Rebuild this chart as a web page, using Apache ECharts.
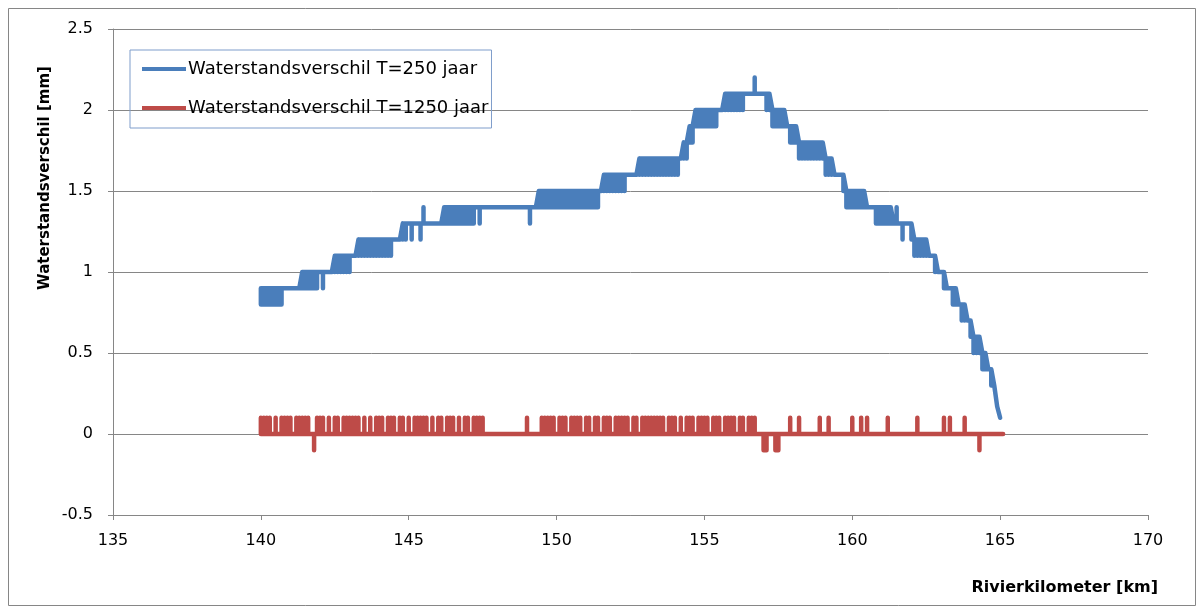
<!DOCTYPE html>
<html>
<head>
<meta charset="utf-8">
<script src="https://cdn.jsdelivr.net/npm/echarts@6/dist/echarts.min.js"></script>
<style>
  html, body { margin: 0; padding: 0; background: #fff; }
  #chart { width: 1203px; height: 614px; }
</style>
</head>
<body>
<div id="chart"></div>
<script>
// rivierkilometer: one bin every 0.1 km, starting at km 140.0
const kmStart = 140;
const kmStep = 0.1;

// T=250 jaar, waterstandsverschil [mm] per 0.1 km bin.
// a number = the line runs at that level,
// [a, b]    = within that bin the line flips between level a and level b
const diff250 = [
  [0.9, 0.8], [0.9, 0.8], [0.9, 0.8], [0.9, 0.8], [0.9, 0.8], [0.9, 0.8], [0.9, 0.8], [0.9, 0.8], 0.9, 0.9,        // 140.0
  0.9, 0.9, 0.9, 0.9, [1.0, 0.9], [1.0, 0.9], [1.0, 0.9], [1.0, 0.9], [1.0, 0.9], [1.0, 0.9],                      // 141.0
  1.0, [1.0, 0.9], 1.0, 1.0, 1.0, [1.1, 1.0], [1.1, 1.0], [1.1, 1.0], [1.1, 1.0], [1.1, 1.0],                      // 142.0
  [1.1, 1.0], 1.1, 1.1, [1.2, 1.1], [1.2, 1.1], [1.2, 1.1], [1.2, 1.1], [1.2, 1.1], [1.2, 1.1], [1.2, 1.1],        // 143.0
  [1.2, 1.1], [1.2, 1.1], [1.2, 1.1], [1.2, 1.1], [1.2, 1.1], 1.2, 1.2, 1.2, [1.3, 1.2], [1.3, 1.2],               // 144.0
  1.3, [1.3, 1.2], 1.3, 1.3, [1.3, 1.2], [1.3, 1.4], 1.3, 1.3, 1.3, 1.3,                                           // 145.0
  1.3, 1.3, [1.4, 1.3], [1.4, 1.3], [1.4, 1.3], [1.4, 1.3], [1.4, 1.3], [1.4, 1.3], [1.4, 1.3], [1.4, 1.3],        // 146.0
  [1.4, 1.3], [1.4, 1.3], [1.4, 1.3], 1.4, [1.4, 1.3], 1.4, 1.4, 1.4, 1.4, 1.4,                                    // 147.0
  1.4, 1.4, 1.4, 1.4, 1.4, 1.4, 1.4, 1.4, 1.4, 1.4,                                                                // 148.0
  1.4, [1.4, 1.3], 1.4, 1.4, [1.5, 1.4], [1.5, 1.4], [1.5, 1.4], [1.5, 1.4], [1.5, 1.4], [1.5, 1.4],               // 149.0
  [1.5, 1.4], [1.5, 1.4], [1.5, 1.4], [1.5, 1.4], [1.5, 1.4], [1.5, 1.4], [1.5, 1.4], [1.5, 1.4], [1.5, 1.4], [1.5, 1.4], // 150.0
  [1.5, 1.4], [1.5, 1.4], [1.5, 1.4], [1.5, 1.4], [1.5, 1.4], 1.5, [1.6, 1.5], [1.6, 1.5], [1.6, 1.5], [1.6, 1.5], // 151.0
  [1.6, 1.5], [1.6, 1.5], [1.6, 1.5], [1.6, 1.5], 1.6, 1.6, 1.6, 1.6, [1.7, 1.6], [1.7, 1.6],                      // 152.0
  [1.7, 1.6], [1.7, 1.6], [1.7, 1.6], [1.7, 1.6], [1.7, 1.6], [1.7, 1.6], [1.7, 1.6], [1.7, 1.6], [1.7, 1.6], [1.7, 1.6], // 153.0
  [1.7, 1.6], [1.7, 1.6], 1.7, [1.8, 1.7], [1.8, 1.7], [1.9, 1.8], [1.9, 1.8], [2.0, 1.9], [2.0, 1.9], [2.0, 1.9], // 154.0
  [2.0, 1.9], [2.0, 1.9], [2.0, 1.9], [2.0, 1.9], [2.0, 1.9], 2.0, 2.0, [2.1, 2.0], [2.1, 2.0], [2.1, 2.0],        // 155.0
  [2.1, 2.0], [2.1, 2.0], [2.1, 2.0], [2.1, 2.0], 2.1, 2.1, 2.1, [2.1, 2.2], 2.1, 2.1,                             // 156.0
  2.1, [2.1, 2.0], [2.1, 2.0], [2.0, 1.9], [2.0, 1.9], [2.0, 1.9], [2.0, 1.9], [2.0, 1.9], 1.9, [1.9, 1.8],        // 157.0
  [1.9, 1.8], [1.9, 1.8], [1.8, 1.7], [1.8, 1.7], [1.8, 1.7], [1.8, 1.7], [1.8, 1.7], [1.8, 1.7], [1.8, 1.7], [1.8, 1.7], // 158.0
  [1.8, 1.7], [1.7, 1.6], [1.7, 1.6], [1.7, 1.6], 1.6, 1.6, 1.6, [1.6, 1.5], [1.5, 1.4], [1.5, 1.4],               // 159.0
  [1.5, 1.4], [1.5, 1.4], [1.5, 1.4], [1.5, 1.4], [1.5, 1.4], 1.4, 1.4, 1.4, [1.4, 1.3], [1.4, 1.3],               // 160.0
  [1.4, 1.3], [1.4, 1.3], [1.4, 1.3], [1.4, 1.3], 1.3, [1.3, 1.4], 1.3, [1.3, 1.2], 1.3, 1.3,                      // 161.0
  [1.3, 1.2], [1.2, 1.1], [1.2, 1.1], [1.2, 1.1], [1.2, 1.1], [1.2, 1.1], 1.1, 1.1, [1.1, 1.0], 1.0,               // 162.0
  1.0, [1.0, 0.9], 0.9, 0.9, [0.9, 0.8], [0.9, 0.8], 0.8, [0.8, 0.7], [0.8, 0.7], 0.7,                             // 163.0
  [0.7, 0.6], [0.6, 0.5], [0.6, 0.5], [0.6, 0.5], [0.5, 0.4], [0.5, 0.4], 0.4, [0.4, 0.3], 0.3, 0.17,              // 164.0
  0.1                                                                                                               // 165.0
];

// T=1250 jaar: the line runs at 0 and in each 0.1 km bin spikes to this value (0 = no spike)
const diff1250Spike = [
  0.1, 0.1, 0.1, 0.1, 0, 0.1, 0, 0.1, 0.1, 0.1,         // 140.0
  0.1, 0, 0.1, 0.1, 0.1, 0.1, 0.1, 0, -0.1, 0.1,        // 141.0
  0.1, 0.1, 0, 0.1, 0, 0.1, 0.1, 0, 0.1, 0.1,           // 142.0
  0.1, 0.1, 0.1, 0.1, 0, 0.1, 0, 0.1, 0, 0.1,           // 143.0
  0.1, 0.1, 0, 0.1, 0.1, 0.1, 0, 0.1, 0.1, 0,           // 144.0
  0.1, 0, 0.1, 0.1, 0.1, 0.1, 0.1, 0, 0.1, 0,           // 145.0
  0.1, 0.1, 0, 0.1, 0.1, 0.1, 0, 0.1, 0, 0.1,           // 146.0
  0.1, 0, 0.1, 0.1, 0.1, 0.1, 0, 0, 0, 0,               // 147.0
  0, 0, 0, 0, 0, 0, 0, 0, 0, 0,                         // 148.0
  0.1, 0, 0, 0, 0, 0.1, 0.1, 0.1, 0.1, 0.1,             // 149.0
  0, 0.1, 0.1, 0.1, 0, 0.1, 0.1, 0.1, 0.1, 0,           // 150.0
  0.1, 0.1, 0, 0.1, 0.1, 0, 0.1, 0.1, 0.1, 0,           // 151.0
  0.1, 0.1, 0.1, 0.1, 0.1, 0, 0.1, 0.1, 0, 0.1,         // 152.0
  0.1, 0.1, 0.1, 0.1, 0.1, 0.1, 0.1, 0, 0.1, 0.1,       // 153.0
  0.1, 0, 0.1, 0, 0.1, 0.1, 0.1, 0, 0.1, 0.1,           // 154.0
  0.1, 0.1, 0, 0.1, 0.1, 0.1, 0, 0.1, 0.1, 0.1,         // 155.0
  0.1, 0, 0.1, 0.1, 0, 0.1, 0.1, 0.1, 0, 0,             // 156.0
  -0.1, -0.1, 0, 0, -0.1, -0.1, 0, 0, 0, 0.1,           // 157.0
  0, 0, 0.1, 0, 0, 0, 0, 0, 0, 0.1,                     // 158.0
  0, 0, 0.1, 0, 0, 0, 0, 0, 0, 0,                       // 159.0
  0.1, 0, 0, 0.1, 0, 0.1, 0, 0, 0, 0,                   // 160.0
  0, 0, 0.1, 0, 0, 0, 0, 0, 0, 0,                       // 161.0
  0, 0, 0.1, 0, 0, 0, 0, 0, 0, 0,                       // 162.0
  0, 0.1, 0, 0.1, 0, 0, 0, 0, 0.1, 0,                   // 163.0
  0, 0, 0, -0.1, 0, 0, 0, 0, 0, 0,                      // 164.0
  0, 0                                                  // 165.0
];

const seriesNames = ['Waterstandsverschil T=250 jaar', 'Waterstandsverschil T=1250 jaar'];
const xTicks = { min: 135, max: 170, interval: 5 };
const yTicks = { min: -0.5, max: 2.5, interval: 0.5 };

function binKm(i) {
  return Math.round((kmStart + i * kmStep) * 10) / 10;
}

// level or [a, b] flip per bin -> points for the line series
function levelPoints(bins) {
  const pts = [];
  bins.forEach((b, i) => {
    const km = binKm(i);
    if (Array.isArray(b)) {
      pts.push([km, b[0]], [km, b[1]], [km, b[0]]);
    } else {
      pts.push([km, b]);
    }
  });
  return pts;
}

// spikes from a zero base line
function spikePoints(spikes) {
  const pts = [];
  spikes.forEach((s, i) => {
    const km = binKm(i);
    if (s !== 0) {
      pts.push([km, 0], [km, s], [km, 0]);
    } else {
      pts.push([km, 0]);
    }
  });
  return pts;
}

const chart = echarts.init(document.getElementById('chart'));
const font = 'DejaVu Sans';

chart.setOption({
  animation: false,
  backgroundColor: '#fff',
  grid: { left: 113, right: 55, top: 29, bottom: 99 },
  legend: {
    left: 130,
    top: 50,
    orient: 'vertical',
    icon: 'rect',
    itemWidth: 44,
    itemHeight: 4,
    itemGap: 21,
    padding: [10, 3, 11, 12],
    borderColor: '#7F9DCB',
    borderWidth: 1,
    textStyle: { color: '#000', fontSize: 18, fontFamily: font, padding: [0, 0, 0, -3] },
    data: seriesNames
  },
  xAxis: {
    type: 'value',
    min: xTicks.min,
    max: xTicks.max,
    interval: xTicks.interval,
    axisLine: { onZero: false, lineStyle: { color: '#868686', width: 1 } },
    axisTick: { show: true, length: 5, lineStyle: { color: '#868686' } },
    axisLabel: { color: '#000', fontSize: 16, fontFamily: font, margin: 18 },
    splitLine: { show: false }
  },
  yAxis: {
    type: 'value',
    min: yTicks.min,
    max: yTicks.max,
    interval: yTicks.interval,
    axisLine: { show: true, lineStyle: { color: '#868686', width: 1 } },
    axisTick: { show: true, length: 5, lineStyle: { color: '#868686' } },
    axisLabel: { color: '#000', fontSize: 16, fontFamily: font, margin: 20 },
    splitLine: { show: true, lineStyle: { color: '#868686', width: 1 } }
  },
  graphic: [
    {
      type: 'rect',
      shape: { x: 8.5, y: 8.5, width: 1187, height: 597 },
      style: { fill: null, stroke: '#868686', lineWidth: 1 },
      silent: true
    },
    {
      type: 'text',
      x: 45,
      y: 178,
      rotation: Math.PI / 2,
      style: {
        text: 'Waterstandsverschil [mm]',
        fill: '#000',
        font: 'bold 15px "DejaVu Sans"',
        align: 'center',
        verticalAlign: 'middle'
      }
    },
    {
      type: 'text',
      x: 1158,
      y: 588,
      style: {
        text: 'Rivierkilometer [km]',
        fill: '#000',
        font: 'bold 16px "DejaVu Sans"',
        align: 'right',
        verticalAlign: 'middle'
      }
    }
  ],
  series: [
    {
      name: seriesNames[0],
      type: 'line',
      showSymbol: false,
      data: levelPoints(diff250),
      lineStyle: { color: '#4A7EBB', width: 4.5, join: 'round', cap: 'round' },
      itemStyle: { color: '#4A7EBB' }
    },
    {
      name: seriesNames[1],
      type: 'line',
      showSymbol: false,
      data: spikePoints(diff1250Spike),
      lineStyle: { color: '#BE4B48', width: 4.5, join: 'round', cap: 'round' },
      itemStyle: { color: '#BE4B48' }
    }
  ]
});

window.onresize = function () {
  chart.resize();
};
</script>
</body>
</html>
